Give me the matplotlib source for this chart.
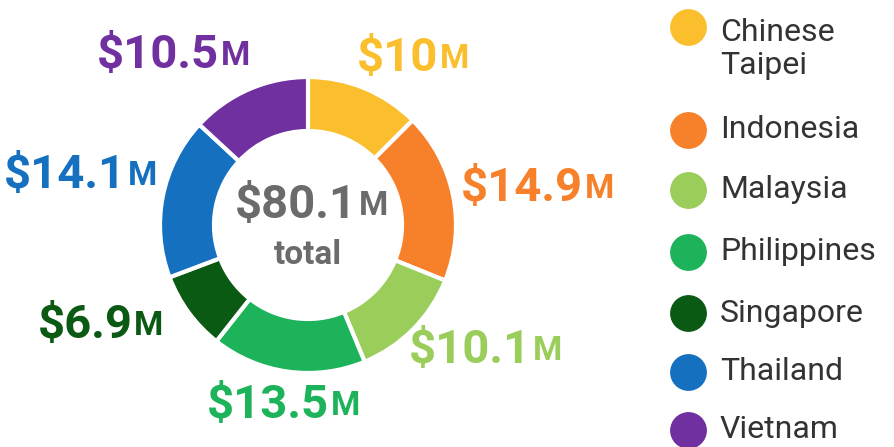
import matplotlib
matplotlib.use("Agg")
import matplotlib.pyplot as plt

countries = ["Chinese\nTaipei", "Indonesia", "Malaysia", "Philippines", "Singapore", "Thailand", "Vietnam"]
values = [10, 14.9, 10.1, 13.5, 6.9, 14.1, 10.5]
value_labels = ["$10", "$14.9", "$10.1", "$13.5", "$6.9", "$14.1", "$10.5"]
colors = ["#FBBF2E", "#F7812A", "#9ACD5A", "#1DB35A", "#0B5A14", "#1570C0", "#7030A0"]
total_label = "$80.1"

plt.rcParams['font.family'] = ['Roboto', 'DejaVu Sans']
fig = plt.figure(figsize=(8.95, 4.47), dpi=100)
ax = fig.add_axes([0, 0, 1, 1])

H = 447
cx, cy = 308, 225
ax.pie(values, colors=colors, startangle=90, counterclock=False, radius=148,
       center=(cx, H - cy), wedgeprops=dict(width=54, edgecolor="white", linewidth=3),
       frame=True)
ax.set_xlim(0, 895)
ax.set_ylim(0, H)
ax.set_aspect("equal")
ax.axis("off")

label_pos = [(398, 58), (522, 188), (470, 350), (268, 405), (85, 325), (65, 175), (158, 55)]
for (x, y), txt, c in zip(label_pos, value_labels, colors):
    t = ax.text(x, H - y, txt, fontsize=34, fontweight="bold", color=c, ha="center", va="center")
    ax.annotate("M", xy=(1, 0.12), xycoords=t, xytext=(1, 0), textcoords="offset points",
                fontsize=24, fontweight="bold", color=c, ha="left", va="bottom")

t = ax.text(cx - 12, H - 205, total_label, fontsize=34, fontweight="bold", color="#6b6b6b", ha="center", va="center")
ax.annotate("M", xy=(1, 0.12), xycoords=t, xytext=(1, 0), textcoords="offset points",
            fontsize=24, fontweight="bold", color="#6b6b6b", ha="left", va="bottom")
ax.text(cx, H - 255, "total", fontsize=24, fontweight="bold", color="#6b6b6b", ha="center", va="center")

leg_y = [27, 130, 190, 252, 313, 372, 430]
for name, c, y in zip(countries, colors, leg_y):
    ax.scatter([688], [H - y], s=650, color=c, zorder=3)
    ax.text(720, H - y + (0 if "\n" not in name else -22), name, fontsize=23, color="#333333",
            ha="left", va="center", linespacing=1.2)

fig.savefig("out.png", dpi=100, facecolor="white")
